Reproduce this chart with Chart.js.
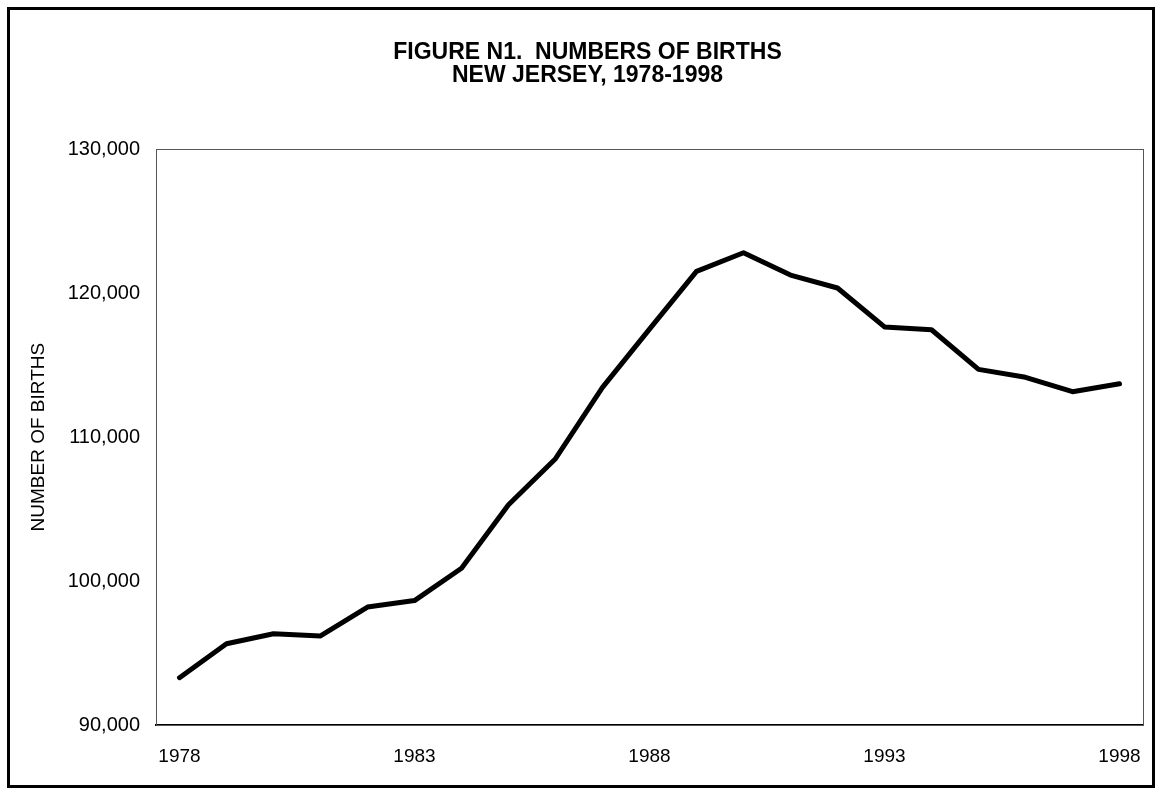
<!DOCTYPE html>
<html>
<head>
<meta charset="utf-8">
<title>Figure N1. Numbers of Births, New Jersey 1978-1998</title>
<script src="https://cdn.jsdelivr.net/npm/chart.js@4/dist/chart.umd.min.js"></script>
<style>
    html, body { margin: 0; padding: 0; background: #ffffff; }
    #chart-wrap { width: 1157px; height: 791px; }
</style>
</head>
<body>
<div id="chart-wrap"><canvas id="births-chart" width="1157" height="791"></canvas></div>
<script>
// Years on the x axis
const years = ['1978', '1979', '1980', '1981', '1982', '1983', '1984', '1985', '1986', '1987', '1988',
               '1989', '1990', '1991', '1992', '1993', '1994', '1995', '1996', '1997', '1998'];
// Number of births per year
const births = [93300, 95650, 96350, 96200, 98200, 98650, 100900, 105300, 108500, 113450, 117500,
                121500, 122800, 121250, 120350, 117650, 117450, 114700, 114150, 113150, 113700];
// Only these years get a label on the x axis
const yearTicks = ['1978', '1983', '1988', '1993', '1998'];
// Y axis range and step
const yMin = 90000;
const yMax = 130000;
const yStep = 10000;

document.addEventListener("DOMContentLoaded", function () {
    const canvas = document.getElementById('births-chart');

    // white page, thin box round the plot and the heavy frame round the figure
    const framePlugin = {
        id: 'frame',
        beforeDraw(chart) {
            const ctx = chart.ctx;
            ctx.save();
            ctx.fillStyle = '#ffffff';
            ctx.fillRect(0, 0, chart.width, chart.height);
            ctx.restore();
        },
        afterDraw(chart) {
            const ctx = chart.ctx;
            const a = chart.chartArea;
            ctx.save();
            ctx.strokeStyle = '#555555';
            ctx.lineWidth = 1;
            ctx.strokeRect(Math.round(a.left) + 0.5, Math.round(a.top) + 0.5,
                           Math.round(a.right - a.left), Math.round(a.bottom - a.top));
            ctx.strokeStyle = '#000000';
            ctx.lineWidth = 3;
            ctx.strokeRect(8.5, 8.5, 1145, 778);
            ctx.restore();
        }
    };

    new Chart(canvas.getContext('2d'), {
        type: 'line',
        data: {
            labels: years,
            datasets: [{
                label: 'Number of births',
                data: births,
                borderColor: '#000000',
                borderWidth: 5,
                borderCapStyle: 'round',
                borderJoinStyle: 'round',
                pointRadius: 0,
                tension: 0,
                fill: false
            }]
        },
        options: {
            responsive: false,
            animation: false,
            layout: {
                padding: { left: 24, right: 6, top: 0, bottom: 3 }
            },
            plugins: {
                legend: { display: false },
                tooltip: { enabled: false },
                title: {
                    display: true,
                    text: ['FIGURE N1.  NUMBERS OF BIRTHS', 'NEW JERSEY, 1978-1998'],
                    color: '#000000',
                    font: { family: 'Liberation Sans', size: 23, weight: 'bold', lineHeight: 1.0 },
                    padding: { top: 41, bottom: 62 }
                }
            },
            scales: {
                x: {
                    type: 'category',
                    offset: true,
                    grid: { display: false, drawTicks: false },
                    border: { display: true, color: '#000000', width: 2 },
                    afterFit: function (scale) {
                        scale.paddingLeft = 0;
                        scale.paddingRight = 14;
                    },
                    ticks: {
                        autoSkip: false,
                        maxRotation: 0,
                        padding: 20,
                        color: '#000000',
                        font: { family: 'Liberation Sans', size: 19 },
                        callback: function (value) {
                            const label = this.getLabelForValue(value);
                            return yearTicks.includes(label) ? label : '';
                        }
                    }
                },
                y: {
                    min: yMin,
                    max: yMax,
                    grid: { display: false, drawTicks: false },
                    border: { display: true, color: '#555555', width: 1 },
                    afterFit: function (scale) { scale.width = 132; },
                    ticks: {
                        stepSize: yStep,
                        padding: 16,
                        color: '#000000',
                        font: { family: 'Liberation Sans', size: 20 },
                        callback: function (value) {
                            return value.toLocaleString('en-US');
                        }
                    },
                    title: {
                        display: true,
                        text: 'NUMBER OF BIRTHS',
                        color: '#000000',
                        font: { family: 'Liberation Sans', size: 19 },
                        padding: { top: 3, bottom: 0 }
                    }
                }
            }
        },
        plugins: [framePlugin]
    });
});
</script>
</body>
</html>
